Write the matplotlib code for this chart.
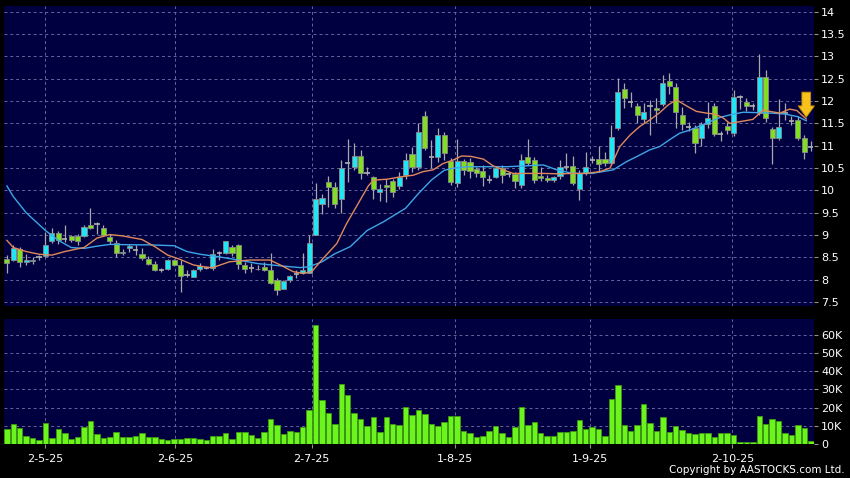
import numpy as np
import matplotlib.pyplot as plt

# daily candles (index 0 = first bar on the left)
opens = [8.47, 8.45, 8.69, 8.40, 8.41, 8.50, 8.52, 8.86, 9.05, 8.90,
         8.98, 8.97, 8.98, 9.23, 9.25, 9.16, 8.96, 8.83, 8.60, 8.70,
         8.66, 8.58, 8.47, 8.36, 8.22, 8.25, 8.44, 8.33, 8.10, 8.07,
         8.24, 8.27, 8.26, 8.60, 8.60, 8.73, 8.78, 8.33, 8.26, 8.24,
         8.28, 8.22, 7.99, 7.80, 7.99, 8.12, 8.14, 8.16, 9.01, 9.69,
         10.19, 10.07, 9.81, 10.62, 10.53, 10.77, 10.38, 10.29, 9.97, 10.13,
         10.21, 10.10, 10.34, 10.81, 10.53, 11.67, 10.75, 10.75, 11.24, 10.66,
         10.16, 10.66, 10.63, 10.47, 10.44, 10.23, 10.30, 10.49, 10.36, 10.36,
         10.12, 10.75, 10.69, 10.32, 10.28, 10.23, 10.32, 10.53, 10.55, 10.02,
         10.40, 10.68, 10.70, 10.70, 10.61, 11.39, 12.27, 11.97, 11.90, 11.59,
         11.89, 11.85, 11.93, 12.45, 12.32, 11.69, 11.43, 11.39, 11.17, 11.49,
         11.88, 11.26, 11.45, 11.28, 12.10, 11.99, 11.89, 11.74, 12.55, 11.37,
         11.17, 11.73, 11.56, 11.57, 11.17, 10.97]
highs = [8.55, 8.77, 8.73, 8.58, 8.50, 8.55, 9.07, 9.16, 9.09, 9.22,
         8.99, 9.03, 9.22, 9.60, 9.29, 9.23, 9.00, 8.88, 8.69, 8.80,
         8.77, 8.72, 8.52, 8.41, 8.27, 8.47, 8.47, 8.43, 8.21, 8.24,
         8.37, 8.31, 8.69, 8.65, 8.87, 8.77, 8.80, 8.39, 8.38, 8.32,
         8.39, 8.60, 8.04, 8.00, 8.10, 8.21, 8.60, 9.01, 10.17, 9.93,
         10.32, 10.19, 10.69, 11.14, 11.05, 10.91, 10.52, 10.32, 10.15, 10.26,
         10.26, 10.42, 10.83, 10.98, 11.50, 11.78, 11.12, 11.39, 11.31, 10.72,
         11.14, 10.70, 10.72, 10.53, 10.57, 10.34, 10.53, 10.57, 10.41, 10.41,
         10.82, 11.16, 10.75, 10.53, 10.35, 10.33, 10.68, 10.83, 10.76, 10.46,
         10.87, 10.78, 11.00, 10.86, 11.47, 12.51, 12.40, 12.21, 11.95, 11.95,
         12.02, 12.06, 12.58, 12.62, 12.40, 11.86, 11.54, 11.46, 11.54, 11.98,
         11.95, 11.32, 11.53, 12.24, 12.14, 12.06, 11.96, 13.06, 12.70, 11.43,
         12.05, 11.96, 11.66, 11.66, 11.24, 11.10]
lows = [8.15, 8.42, 8.28, 8.32, 8.34, 8.44, 8.50, 8.82, 8.80, 8.84,
        8.84, 8.77, 8.95, 9.14, 9.03, 8.97, 8.80, 8.51, 8.55, 8.62,
        8.55, 8.43, 8.32, 8.20, 8.18, 8.22, 8.30, 7.72, 8.05, 8.05,
        8.20, 8.24, 8.22, 8.43, 8.58, 8.52, 8.25, 8.15, 8.17, 8.22,
        8.20, 7.90, 7.65, 7.78, 7.94, 8.04, 8.12, 8.14, 9.00, 9.48,
        9.62, 9.60, 9.50, 10.19, 10.45, 10.25, 10.34, 9.80, 9.77, 9.74,
        9.86, 10.02, 10.26, 10.42, 10.45, 10.90, 10.51, 10.64, 10.68, 10.12,
        10.08, 10.34, 10.27, 10.31, 10.09, 10.16, 10.27, 10.16, 10.31, 10.05,
        10.05, 10.56, 10.16, 10.20, 10.19, 10.19, 10.26, 10.46, 10.12, 9.78,
        10.35, 10.61, 10.42, 10.55, 10.57, 11.35, 11.84, 11.87, 11.50, 11.50,
        11.24, 11.50, 11.88, 12.17, 11.40, 11.35, 11.32, 10.84, 10.99, 11.39,
        11.21, 11.10, 11.27, 11.21, 11.82, 11.77, 11.81, 11.69, 11.54, 10.60,
        11.13, 11.58, 11.47, 11.13, 10.70, 10.89]
closes = [8.38, 8.72, 8.40, 8.43, 8.45, 8.50, 8.78, 9.04, 8.88, 8.90,
          8.88, 8.87, 9.18, 9.16, 9.25, 9.00, 8.87, 8.60, 8.62, 8.75,
          8.66, 8.48, 8.36, 8.22, 8.22, 8.45, 8.33, 8.09, 8.10, 8.22,
          8.30, 8.27, 8.58, 8.60, 8.87, 8.60, 8.36, 8.25, 8.26, 8.25,
          8.22, 7.93, 7.77, 7.97, 8.08, 8.12, 8.21, 8.83, 9.80, 9.82,
          10.07, 9.69, 10.51, 10.62, 10.77, 10.38, 10.38, 10.04, 10.04, 10.07,
          9.97, 10.29, 10.69, 10.53, 11.31, 10.94, 10.75, 11.24, 10.83, 10.19,
          10.66, 10.45, 10.44, 10.40, 10.29, 10.23, 10.49, 10.34, 10.36, 10.22,
          10.69, 10.62, 10.23, 10.27, 10.24, 10.29, 10.53, 10.53, 10.16, 10.40,
          10.53, 10.68, 10.59, 10.61, 11.20, 12.21, 12.06, 11.97, 11.69, 11.76,
          11.89, 11.80, 12.40, 12.34, 11.76, 11.49, 11.43, 11.06, 11.49, 11.63,
          11.26, 11.26, 11.36, 12.09, 12.10, 11.89, 11.89, 12.55, 11.62, 11.17,
          11.43, 11.73, 11.56, 11.17, 10.87, 10.97]
# volume in thousands of shares
volumes_k = [8.3, 11.0, 8.6, 4.4, 3.1, 2.0, 11.7, 3.3, 8.4, 5.9,
             2.6, 3.7, 9.4, 12.8, 5.7, 3.3, 3.9, 6.4, 3.9, 3.9,
             4.4, 5.9, 3.7, 4.0, 2.6, 2.0, 2.6, 2.6, 3.3, 3.3,
             2.6, 2.2, 4.4, 4.4, 6.2, 2.9, 6.6, 6.6, 5.0, 3.1,
             6.6, 13.6, 10.5, 5.5, 7.3, 6.4, 9.2, 18.7, 65.5, 24.2,
             17.0, 11.0, 32.8, 27.0, 17.0, 13.8, 9.9, 14.7, 6.4, 14.7,
             11.0, 10.5, 20.6, 15.8, 18.7, 16.3, 11.0, 9.7, 11.9, 15.4,
             15.4, 7.0, 5.9, 4.0, 4.6, 7.2, 9.9, 6.1, 3.9, 9.5,
             20.4, 10.3, 11.9, 6.1, 4.2, 4.2, 6.6, 6.6, 7.0, 13.2,
             8.1, 9.2, 8.3, 4.4, 24.6, 32.7, 10.6, 7.0, 10.3, 21.8,
             11.7, 7.2, 15.0, 6.6, 10.1, 7.5, 6.2, 5.5, 6.2, 5.9,
             3.7, 5.9, 5.9, 5.0, 1.1, 1.1, 1.3, 15.2, 11.2, 13.8,
             12.7, 5.9, 4.8, 10.3, 8.8, 1.5]

# moving average lines (bar index, price)
ma_short_idx = [0, 1, 3, 5, 7, 9, 12, 14, 16, 18, 21, 23, 25, 27, 29, 31, 32,
                34.6, 37.8, 40.9, 42.5, 44.5, 46.1, 47.4, 49.2, 51.3, 52.8, 54.4,
                56.2, 57, 59.1, 61.1, 63.2, 64.7, 66.3, 67.8, 69.4, 70.7, 72.2,
                74.1, 75.6, 77.2, 78.7, 80.8, 83.4, 86, 88, 90.1, 92.2, 93.8,
                95.3, 96.9, 98.4, 100, 101.5, 102.8, 104.1, 105.7, 107.2, 108.8,
                110.1, 111.4, 112.4, 114, 116, 117.6, 118.6, 120.2, 121.7, 122.8,
                124.3]
ma_short = [8.88, 8.72, 8.63, 8.57, 8.55, 8.63, 8.72, 8.93, 9.01, 8.98, 8.90,
            8.74, 8.55, 8.45, 8.33, 8.28, 8.27, 8.40, 8.44, 8.44, 8.33, 8.18,
            8.14, 8.18, 8.48, 8.81, 9.25, 9.65, 10.10, 10.23, 10.25, 10.30,
            10.34, 10.42, 10.46, 10.60, 10.68, 10.77, 10.76, 10.70, 10.55,
            10.46, 10.38, 10.38, 10.38, 10.37, 10.38, 10.38, 10.42, 10.50,
            10.98, 11.24, 11.43, 11.58, 11.74, 11.91, 12.03, 11.89, 11.77,
            11.73, 11.71, 11.62, 11.50, 11.54, 11.59, 11.80, 11.77, 11.73,
            11.82, 11.79, 11.60]
ma_long_idx = [0, 1, 3, 6, 8, 10, 12, 14, 16, 20, 22, 26, 28, 30, 33, 36, 39,
               42.5, 45.6, 47, 49, 51, 53.4, 56, 58.6, 62, 64, 66, 68, 69.5,
               71.5, 74.5, 77.7, 80.8, 83.4, 85.5, 88, 91, 92.2, 94.3, 96.3,
               98.4, 100, 101.5, 103, 104.6, 106.2, 107.7, 109.3, 111, 113,
               114.5, 117, 119, 121, 123, 124.3]
ma_long = [10.10, 9.86, 9.50, 9.10, 8.88, 8.72, 8.70, 8.75, 8.79, 8.78, 8.78,
           8.76, 8.63, 8.57, 8.51, 8.44, 8.36, 8.31, 8.27, 8.29, 8.40, 8.58,
           8.74, 9.10, 9.30, 9.60, 9.93, 10.23, 10.45, 10.50, 10.53, 10.53,
           10.53, 10.55, 10.57, 10.46, 10.38, 10.38, 10.41, 10.46, 10.64,
           10.79, 10.91, 10.98, 11.13, 11.28, 11.35, 11.44, 11.54, 11.64,
           11.71, 11.75, 11.74, 11.73, 11.71, 11.65, 11.56]

date_labels = ['2-5-25', '2-6-25', '2-7-25', '1-8-25', '1-9-25', '2-10-25']
date_pos = [6, 26.2, 47.4, 69.6, 90.7, 112.8]
price_ticks = [7.5, 8, 8.5, 9, 9.5, 10, 10.5, 11, 11.5, 12, 12.5, 13, 13.5, 14]
vol_ticks = [0, 10, 20, 30, 40, 50, 60]
vol_labels = ['0', '10K', '20K', '30K', '40K', '50K', '60K']

BG = '#000040'
UP = '#22e4f2'
DOWN = '#80e020'
GRID = '#66669c'

o = np.array(opens)
h = np.array(highs)
l = np.array(lows)
c = np.array(closes)
x = np.arange(len(o))

fig = plt.figure(figsize=(8.5, 4.78), dpi=100, facecolor='black')
ax = fig.add_axes([4 / 850, 1 - 306 / 478, 810 / 850, 300 / 478])
axv = fig.add_axes([4 / 850, 1 - 444 / 478, 810 / 850, 125 / 478])

for a in (ax, axv):
    a.set_facecolor(BG)
    for s in a.spines.values():
        s.set_visible(False)
    a.set_xlim(-0.45, 125.5)
    a.set_xticks(date_pos)
    a.grid(True, color=GRID, linestyle=(0, (3, 3)), linewidth=0.7)
    a.set_axisbelow(True)
    a.yaxis.tick_right()
    a.tick_params(axis='y', colors='#909090', labelcolor='white', labelsize=8,
                  length=3, width=0.8, pad=2)

# candles
up = c > o
dn = c < o
flat = c == o
ax.vlines(x, l, h, color='#a8a8a8', linewidth=0.9, zorder=2)
ax.bar(x[up], (c - o)[up], bottom=o[up], width=0.8, color=UP,
       edgecolor='#8a8a8a', linewidth=0.6, zorder=3)
ax.bar(x[dn], (o - c)[dn], bottom=c[dn], width=0.8, color=DOWN,
       edgecolor='#8a8a8a', linewidth=0.6, zorder=3)
ax.hlines(c[flat], x[flat] - 0.4, x[flat] + 0.4, color='#b0b0b0',
          linewidth=1.2, zorder=3)

ax.plot(ma_long_idx, ma_long, color='#3ea6e6', linewidth=1.0, zorder=4)
ax.plot(ma_short_idx, ma_short, color='#e0895a', linewidth=1.0, zorder=4)

ax.annotate('', xy=(124.3, 11.64), xytext=(124.3, 12.2),
            arrowprops=dict(arrowstyle='simple,head_length=0.9,head_width=1.3,tail_width=0.7',
                            mutation_scale=9, facecolor='#f7c21c',
                            edgecolor='#c88a00', linewidth=0.6,
                            shrinkA=0, shrinkB=0), zorder=5)

ax.set_ylim(7.41, 14.13)
ax.set_yticks(price_ticks)
ax.set_yticklabels([f'{t:g}' for t in price_ticks])
ax.tick_params(axis='x', length=0, labelbottom=False)

axv.bar(x, volumes_k, width=0.85, color='#6cf51c', edgecolor='#3c9a10',
        linewidth=0.6, zorder=3)
axv.set_ylim(0, 68.8)
axv.set_yticks(vol_ticks)
axv.set_yticklabels(vol_labels)
axv.set_xticklabels(date_labels)
axv.tick_params(axis='x', colors='#909090', labelcolor='white', labelsize=8,
                length=3, width=0.8, pad=4)

fig.text(845 / 850, 1 - 470 / 478, 'Copyright by AASTOCKS.com Ltd.',
         ha='right', va='center', color='white', fontsize=7.5)

fig.savefig('out.png', dpi=100, facecolor='black')
